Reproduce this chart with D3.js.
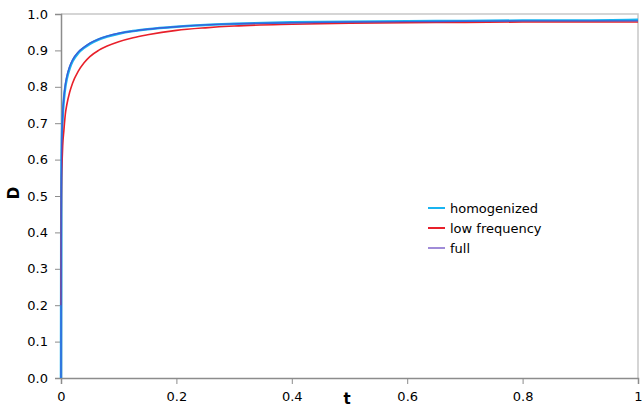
<!DOCTYPE html>
<html><head><meta charset="utf-8">
<script src="https://cdn.jsdelivr.net/npm/d3@7"></script>
<style>body{margin:0;background:#fff}svg{display:block}text{font-family:"DejaVu Sans",Verdana,sans-serif}</style>
</head><body><svg id="c" width="642" height="409"></svg>
<script>
const tValues = [0, 0.0005, 0.001, 0.002, 0.003, 0.005, 0.0075, 0.01, 0.015, 0.02, 0.03, 0.04, 0.05, 0.065, 0.08, 0.1, 0.125, 0.15, 0.2, 0.25, 0.3, 0.4, 0.5, 0.6, 0.7, 0.8, 0.9, 1.0];
const homogenized = [0, 0.5, 0.6, 0.68, 0.72, 0.765, 0.8, 0.822, 0.851, 0.87, 0.893, 0.907, 0.918, 0.93, 0.938, 0.946, 0.953, 0.958, 0.965, 0.97, 0.973, 0.977, 0.979, 0.98, 0.981, 0.982, 0.982, 0.984];
const lowFrequency = [0.2, 0.45, 0.55, 0.6, 0.64, 0.68, 0.725, 0.75, 0.785, 0.81, 0.843, 0.866, 0.883, 0.9, 0.912, 0.924, 0.935, 0.943, 0.955, 0.962, 0.967, 0.972, 0.975, 0.976, 0.977, 0.978, 0.978, 0.978];
const full = [0, 0.52, 0.61, 0.69, 0.73, 0.772, 0.806, 0.828, 0.856, 0.874, 0.896, 0.909, 0.92, 0.931, 0.939, 0.947, 0.953, 0.958, 0.965, 0.97, 0.973, 0.976, 0.978, 0.979, 0.98, 0.981, 0.981, 0.981];
const seriesNames = ["homogenized", "low frequency", "full"];
const seriesColors = ["#19b4f0", "#e8202a", "#a08cd8"];
const xTicks = [0, 0.2, 0.4, 0.6, 0.8, 1];
const yTicks = [0, 0.1, 0.2, 0.3, 0.4, 0.5, 0.6, 0.7, 0.8, 0.9, 1.0];

const svg = d3.select("#c");
const x = d3.scaleLinear().domain([0, 1]).range([61, 638]);
const y = d3.scaleLinear().domain([0, 1]).range([378, 14]);

// frame top/right
svg.append("path").attr("d", `M${x(0)},${y(1)}H${x(1)}V${y(0)}`).attr("fill","none").attr("stroke","#c8c8c8").attr("stroke-width",1.5);

const yAxis = svg.append("g").attr("transform", `translate(${x(0)},0)`)
  .call(d3.axisLeft(y).tickValues(yTicks).tickFormat(d3.format(".1f")).tickSize(6).tickPadding(7));
const xAxis = svg.append("g").attr("transform", `translate(0,${y(0)})`)
  .call(d3.axisBottom(x).tickValues(xTicks).tickFormat(d => d === 0 || d === 1 ? String(d) : d3.format(".1f")(d)).tickSize(6).tickPadding(8));
[yAxis, xAxis].forEach(g => {
  g.select(".domain").attr("stroke", "#8c8c8c").attr("stroke-width", 1.5);
  g.selectAll(".tick line").attr("stroke", "#8c8c8c").attr("stroke-width", 1);
  g.selectAll("text").attr("font-size", 13).attr("fill", "#000").attr("font-family", "DejaVu Sans, Verdana, sans-serif");
});

const line = d3.line().x(d => x(d[0])).y(d => y(d[1])).curve(d3.curveMonotoneX);
const mk = arr => tValues.map((t, i) => [t, arr[i]]);
svg.append("path").datum(mk(homogenized)).attr("d", line).attr("fill","none").attr("stroke", seriesColors[0]).attr("stroke-width", 2.5);
svg.append("path").datum(mk(lowFrequency)).attr("d", line).attr("fill","none").attr("stroke", seriesColors[1]).attr("stroke-width", 1.6);
svg.append("path").datum(mk(full)).attr("d", line).attr("fill","none").attr("stroke", "#3a5fd8").attr("stroke-width", 1.4);

// axis titles
svg.append("text").attr("transform", "translate(19,193) rotate(-90)").attr("text-anchor","middle")
  .attr("font-size", 15).attr("font-weight","bold").text("D");
svg.append("text").attr("x", 347).attr("y", 404).attr("text-anchor","middle")
  .attr("font-size", 15).attr("font-weight","bold").text("t");

// legend
const lg = svg.append("g").attr("transform", "translate(428,208)");
seriesNames.forEach((n, i) => {
  const r = lg.append("g").attr("transform", `translate(0,${i*20})`);
  r.append("line").attr("x1",0).attr("x2",17).attr("y1",0).attr("y2",0).attr("stroke", seriesColors[i]).attr("stroke-width", 2);
  r.append("text").attr("x", 22).attr("y", 5).attr("font-size", 13).text(n);
});
</script></body></html>
